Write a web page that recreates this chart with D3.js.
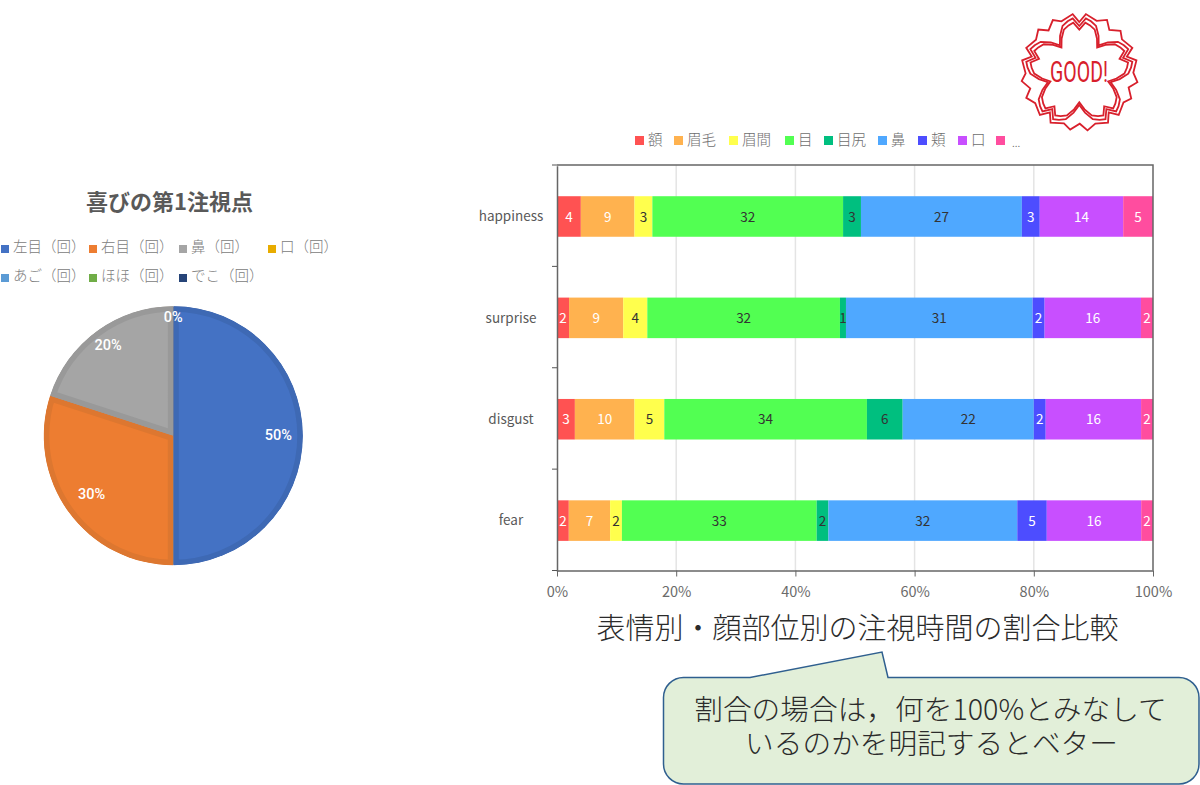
<!DOCTYPE html>
<html><head><meta charset="utf-8">
<script src="https://cdn.jsdelivr.net/npm/d3@7"></script>
<style>html,body{margin:0;background:#fff}svg{display:block}text{font-family:"Noto Sans CJK JP","Noto Sans",sans-serif}</style>
</head><body><div id="c"></div>
<script>
// ---- data ----
const pieTitle = "喜びの第1注視点";
const pieNames = ["左目（回）","右目（回）","鼻（回）","口（回）","あご（回）","ほほ（回）","でこ（回）"];
const pieValues = [50,30,20,0,0,0,0];
const pieColors = ["#4472c4","#ed7d31","#a5a5a5","#e8ac00","#5b9bd5","#70ad47","#264478"];
const pieEdges  = ["#3e69b4","#dd7730","#999999","#e0a800","#5290c5","#669e40","#203a66"];
const categories = ["happiness","surprise","disgust","fear"];
const partNames = ["額","眉毛","眉間","目","目尻","鼻","頬","口","..."];
const happiness = [4,9,3,32,3,27,3,14,5];
const surprise  = [2,9,4,32,1,31,2,16,2];
const disgust   = [3,10,5,34,6,22,2,16,2];
const fear      = [2,7,2,33,2,32,5,16,2];
const partColors = ["#ff5252","#ffb24f","#ffff4d","#52ff52","#00bf7f","#4fa8ff","#4d4dff","#c84fff","#ff4d9f"];
const labelColors = ["#fff","#fff","#333","#333","#333","#333","#fff","#fff","#fff"];
const xTicks = [0,0.2,0.4,0.6,0.8,1];
const chartTitle = "表情別・顔部位別の注視時間の割合比較";
const noteLines = ["割合の場合は，何を100%とみなして","いるのかを明記するとベター"];

const svg = d3.select("#c").append("svg").attr("width",1200).attr("height",785);

// ---- pie ----
const pieG = svg.append("g").attr("transform","translate(173.3,435.7)");
const R = 129.5;
const arcs = d3.pie().sort(null)(pieValues);
const arc = d3.arc().innerRadius(0).outerRadius(R);
const defs = svg.append("defs");
arcs.forEach((a,i)=>{ if(a.value>0) defs.append("clipPath").attr("id","sl"+i).append("path").attr("d",arc(a)); });
pieG.append("circle").attr("r",R-0.4).attr("fill","#a08a70");
pieG.selectAll("path.s").data(arcs.filter(a=>a.value>0)).join("path").attr("class","s")
  .attr("d",arc).attr("fill",d=>pieColors[d.index]).attr("stroke",d=>pieEdges[d.index])
  .attr("stroke-width",11).attr("clip-path",d=>`url(#sl${d.index})`);
const labelRadius = {50:105,30:101,20:111,0:118};
const shown = arcs.filter((a,i)=>a.value>0||i===3);
pieG.selectAll("text").data(shown).join("text")
  .attr("x",d=>{const m=d.value>0?(d.startAngle+d.endAngle)/2:0;return Math.sin(m)*labelRadius[d.value];})
  .attr("y",d=>{const m=d.value>0?(d.startAngle+d.endAngle)/2:0;return -Math.cos(m)*labelRadius[d.value]-1;})
  .attr("dy","0.35em").attr("text-anchor","middle").attr("fill","#fff").attr("font-size",14.5).attr("font-weight",500)
  .style("font-family","Roboto, sans-serif")
  .text(d=>d.value+"%");
svg.append("text").attr("x",169.5).attr("y",209.5).attr("text-anchor","middle").attr("font-size",22)
  .attr("font-weight",700).attr("fill","#595959").text(pieTitle);
const legendX = [1,89,179,268], legendRowY = [247,276];
const pl = svg.selectAll("g.pl").data(pieNames).join("g").attr("class","pl")
  .attr("transform",(d,i)=>`translate(${legendX[i%4]},${legendRowY[Math.floor(i/4)]})`);
pl.append("rect").attr("y",-2).attr("width",8).attr("height",8).attr("fill",(d,i)=>pieColors[i]);
pl.append("text").attr("x",12).attr("dy","0.35em").attr("font-size",14.5).attr("font-weight",300).attr("fill","#808080").text(d=>d);

// ---- stacked bars ----
const x = d3.scaleLinear().domain([0,1]).range([557,1153]);
const y = d3.scaleBand().domain(categories).range([165.8,571.3]).paddingInner(0.6).paddingOuter(0.3);
const rowsByCat = {happiness,surprise,disgust,fear};
const rows = categories.map(c=>{const o={cat:c};partNames.forEach((p,i)=>o[p]=rowsByCat[c][i]);return o;});
const stack = d3.stack().keys(partNames).offset(d3.stackOffsetExpand)(rows);

svg.append("g").selectAll("line").data(xTicks.slice(1,-1)).join("line")
  .attr("x1",d=>x(d)).attr("x2",d=>x(d)).attr("y1",165).attr("y2",570.5).attr("stroke","#e4e4e4").attr("stroke-width",1.5);

stack.forEach((s,si)=>{
  const g = svg.append("g");
  g.selectAll("rect").data(s).join("rect")
    .attr("x",d=>x(d[0])).attr("width",d=>x(d[1])-x(d[0]))
    .attr("y",d=>y(d.data.cat)).attr("height",y.bandwidth()).attr("fill",partColors[si]);
  g.selectAll("text").data(s).join("text")
    .attr("x",d=>(x(d[0])+x(d[1]))/2).attr("y",d=>y(d.data.cat)+y.bandwidth()/2+0.5).attr("dy","0.35em")
    .attr("text-anchor","middle").attr("font-size",13.5).attr("fill",labelColors[si])
    .text(d=>d.data[s.key]);
});

// axes
const xAxis = svg.append("g").attr("transform","translate(0,570.5)")
  .call(d3.axisBottom(x).tickValues(xTicks).tickFormat(d3.format(".0%")).tickSize(6).tickPadding(10).tickSizeOuter(0));
xAxis.selectAll("line").attr("stroke","#666");
xAxis.select(".domain").attr("stroke","#666").attr("stroke-width",1.5);
xAxis.selectAll("text").attr("font-size",14.5).attr("fill","#6b6b6b").style("font-family",'"Noto Sans CJK JP",sans-serif');
const yAxis = svg.append("g").attr("transform","translate(557,0)")
  .call(d3.axisLeft(y).tickSize(0).tickPadding(15));
yAxis.select(".domain").attr("stroke","#666").attr("stroke-width",1.5);
yAxis.selectAll("text").attr("font-size",13.5).attr("fill","#595959").attr("text-anchor","middle").attr("x",-46).attr("dy","0.35em")
  .style("font-family",'"Noto Sans CJK JP",sans-serif');
const step = (570.5-165)/4;
svg.append("g").selectAll("line").data(d3.range(5)).join("line")
  .attr("x1",552).attr("x2",557).attr("y1",i=>165+i*step).attr("y2",i=>165+i*step).attr("stroke","#555");
svg.append("path").attr("d","M557,165H1153V570.5").attr("fill","none").attr("stroke","#666").attr("stroke-width",1.5);

// legend of the bars
const partLegendX = [635,674,729,785,824,878,918,958,996];
const bl = svg.selectAll("g.bl").data(partNames).join("g").attr("class","bl")
  .attr("transform",(d,i)=>`translate(${partLegendX[i]},140)`);
bl.append("rect").attr("y",-4).attr("width",9).attr("height",9).attr("fill",(d,i)=>partColors[i]);
bl.append("text").attr("x",d=>d==="..."?16:13).attr("dy",d=>d==="..."?"0.6em":"0.35em")
  .attr("font-size",d=>d==="..."?11:14.5).attr("font-weight",300).attr("fill","#6e6e6e").text(d=>d);

svg.append("text").attr("x",857.5).attr("y",639).attr("text-anchor","middle").attr("font-size",29).attr("font-weight",300)
  .attr("fill","#2b2b2b").text(chartTitle);

// callout
const cx0=663.5,cx1=1199,cy0=677.5,cy1=784,r=20;
const p=d3.path();
p.moveTo(cx0+r,cy0);p.lineTo(750,cy0);p.lineTo(882,652);p.lineTo(888,cy0);p.lineTo(cx1-r,cy0);
p.arcTo(cx1,cy0,cx1,cy0+r,r);p.lineTo(cx1,cy1-r);p.arcTo(cx1,cy1,cx1-r,cy1,r);p.lineTo(cx0+r,cy1);
p.arcTo(cx0,cy1,cx0,cy1-r,r);p.lineTo(cx0,cy0+r);p.arcTo(cx0,cy0,cx0+r,cy0,r);p.closePath();
svg.append("path").attr("d",p.toString()).attr("fill","#e2efd9").attr("stroke","#2f5f8f").attr("stroke-width",1.5);
svg.selectAll("text.note").data(noteLines).join("text").attr("class","note")
  .attr("x",(d,i)=>i?931.5:930.5).attr("y",(d,i)=>i?754:720).attr("text-anchor","middle").attr("font-size",28.7).attr("font-weight",300)
  .attr("fill","#2b2b2b").text(d=>d);

// stamp
const stamp = svg.append("g").attr("transform","translate(1079.3,72)").attr("fill","none").attr("stroke","#d8202c").attr("stroke-width",1.8).attr("stroke-linejoin","miter");
const outerSector = [[0,50],[6.5,58.3],[18.7,54],[28,59],[35.5,51.7],[45,58.3],[52.6,53.7],[65.5,58.3]];
const innerSector = [[0,46],[7,54],[13,52],[20,49],[28,41],[36,33],[44,41],[52,49],[59,52],[65,54]];
const ring = (sec,k)=>d3.range(5).flatMap(n=>sec.map(([a,r])=>[(a+n*72)*Math.PI/180,r*k]));
const radial = d3.lineRadial().curve(d3.curveLinearClosed);
stamp.append("path").attr("d",radial(ring(outerSector,1)));
stamp.append("path").attr("d",radial(ring(innerSector,1)));
stamp.append("path").attr("d",radial(ring(innerSector,0.92)));
svg.append("text").attr("x",1050).attr("y",82).attr("font-size",30).attr("font-weight",400)
  .attr("textLength",58).attr("lengthAdjust","spacingAndGlyphs").style("font-family","Roboto, sans-serif")
  .attr("fill","#d8202c").text("GOOD!");
</script></body></html>
